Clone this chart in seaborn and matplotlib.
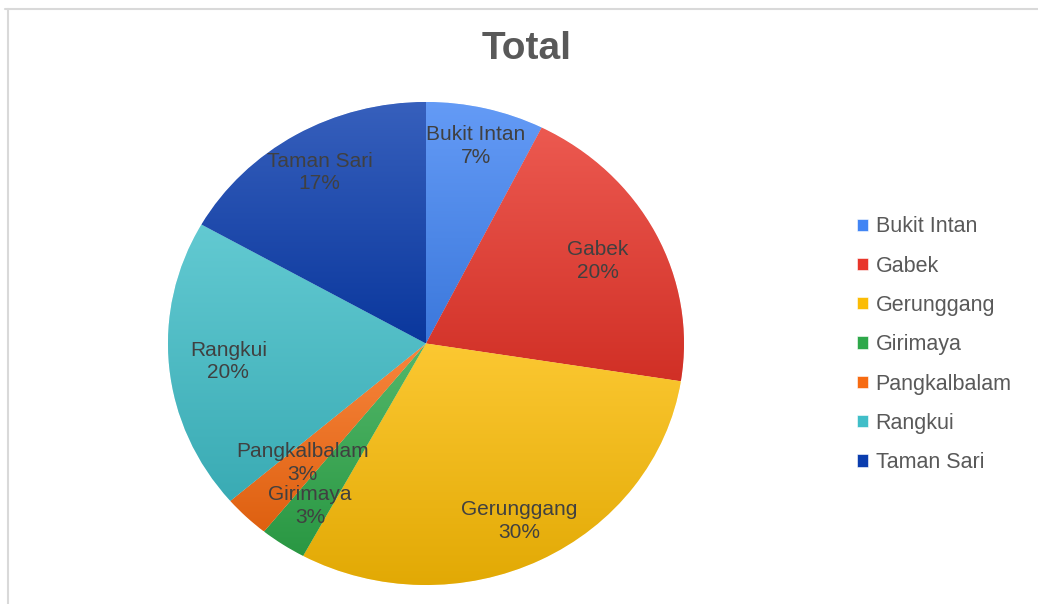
import matplotlib
matplotlib.use('Agg')
import matplotlib.pyplot as plt
import matplotlib.colors as mcolors
import numpy as np
import seaborn as sns
from matplotlib.lines import Line2D

# dados (percentuais)
regioes = ['Bukit Intan', 'Gabek', 'Gerunggang', 'Girimaya', 'Pangkalbalam', 'Rangkui', 'Taman Sari']
valores = [7.4, 20.1, 30.4, 2.9, 2.9, 19.5, 16.8]
cores = ['#4285F4', '#E8352A', '#FBBC05', '#2EA84A', '#F76B12', '#40BEC8', '#0B3DAE']
# distância de cada rótulo ao centro (como no Excel)
dist_rotulo = [0.84, 0.75, 0.82, 0.81, 0.69, 0.77, 0.82]

sns.set_theme(style='white')
plt.rcParams['font.family'] = ['Liberation Sans', 'DejaVu Sans']

fig = plt.figure(figsize=(10.38, 6.04), dpi=100)
ax = fig.add_axes([168/1038, 1-585/604, 516/1038, 483/604])

pal = sns.color_palette(cores)
wedges, textos = ax.pie(valores, colors=pal, startangle=90, counterclock=False,
                        wedgeprops=dict(edgecolor='white', linewidth=0.4))
ax.set_aspect('auto')  # a pizza original é levemente achatada

# gradiente vertical dentro de cada fatia (claro em cima, escuro embaixo)
for w, c in zip(wedges, pal):
    c = np.array(mcolors.to_rgb(c))
    topo = c + (1 - c) * 0.18
    base = c * 0.90
    t = np.linspace(0, 1, 256)[:, None]
    grad = (topo[None, :] * (1 - t) + base[None, :] * t)[:, None, :]
    ext = w.get_path().get_extents(w.get_patch_transform())
    im = ax.imshow(grad, extent=[ext.x0, ext.x1, ext.y0, ext.y1], aspect='auto',
                   origin='upper', zorder=w.get_zorder() + 0.1)
    im.set_clip_path(w)

ax.set_xlim(-1, 1)
ax.set_ylim(-1, 1)
ax.axis('off')

# rótulos: nome + percentual
total = sum(valores)
for w, nome, v, r in zip(wedges, regioes, valores, dist_rotulo):
    ang = np.deg2rad((w.theta1 + w.theta2) / 2)
    ax.text(r * np.cos(ang), r * np.sin(ang), f'{nome}\n{v / total * 100:.0f}%',
            ha='center', va='center', fontsize=15, color='#404040', linespacing=1.25, zorder=10)

# título
fig.text(527/1038, 1-49/604, 'Total', ha='center', va='center', fontsize=28,
         fontweight='bold', color='#595959')

# legenda
fig.legend(wedges, regioes, loc='upper left', bbox_to_anchor=(838/1038, 1-197/604),
           frameon=False, fontsize=15.5, labelcolor='#595959', labelspacing=0.85,
           handlelength=0.5, handleheight=0.5, handletextpad=0.35)

# moldura cinza (topo e esquerda)
fig.add_artist(Line2D([5/1038, 1], [1-9/604, 1-9/604], color='#D9D9D9', lw=1.5))
fig.add_artist(Line2D([8/1038, 8/1038], [0, 1-9/604], color='#D9D9D9', lw=1.5))

fig.savefig('out.png', dpi=100, facecolor='white')
